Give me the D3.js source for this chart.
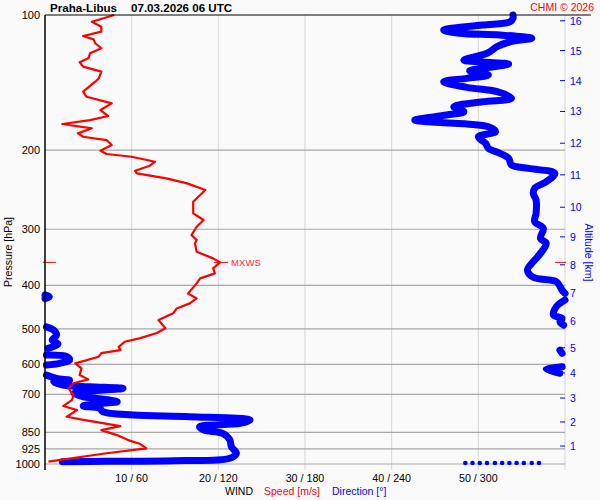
<!DOCTYPE html>
<html>
<head>
<meta charset="utf-8">
<script src="https://cdn.jsdelivr.net/npm/d3@7"></script>
<style>
body { margin: 0; background: #fafafa; }
svg { font-family: "Liberation Sans", Arial, sans-serif; display: block; }
</style>
</head>
<body>
<svg></svg>
<script>
/* sounding data */
var station = "Praha-Libus";
var dateLabel = "07.03.2026 06 UTC";
var copyright = "CHMI \u00a9 2026";

var presTicks = [100, 200, 300, 400, 500, 600, 700, 850, 925, 1000];
var windTicks = [10, 20, 30, 40, 50];
var windLabels = ["10 / 60", "20 / 120", "30 / 180", "40 / 240", "50 / 300"];
var gridSpeeds = [10, 20, 30, 40, 50, 60];

var altKm = [1, 2, 3, 4, 5, 6, 7, 8, 9, 10, 11, 12, 13, 14, 15, 16];
var altPres = [912, 806, 713, 627, 551, 480, 416, 360, 312, 268, 227, 193, 164, 140, 120, 103];

// wind speed [m/s] against pressure [hPa]
var speedPres = [100, 103.5, 106.2, 108.9, 111.4, 113.3, 115.6, 118.6, 121.7, 124.9,
  127.4, 130.3, 133.7, 138.4, 140.8, 148.2, 152.1, 157.3, 162.8, 167.9,
  171.4, 174.9, 178.8, 183.5, 186.7, 189.9, 194.8, 200.6, 204.0, 206.9,
  212.2, 216.6, 222.3, 225.3, 231.1, 237.1, 245.4, 260.5, 276.5, 286.2,
  296.2, 309.1, 317.2, 322.6, 336.8, 348.4, 355.6, 366.7, 376.3, 386.0,
  396.0, 417.0, 427.6, 438.8, 450.3, 461.8, 478.1, 498.6, 510.9, 524.3,
  534.3, 548.2, 557.6, 566.3, 576.8, 596.9, 612.4, 633.9, 647.9, 661.1,
  678.6, 702.4, 720.6, 742.9, 758.5, 784.8, 798.5, 823.5, 840.5, 862.3,
  884.7, 902.8, 922.6, 946.5, 988.1];
var speedVals = [8.0, 5.4, 6.5, 6.5, 4.4, 5.6, 5.8, 6.5, 5.2, 5.0,
  4.0, 4.4, 6.5, 6.2, 5.8, 4.4, 4.8, 7.7, 6.4, 7.3,
  5.2, 2.0, 5.4, 3.8, 4.4, 7.1, 7.7, 6.4, 7.1, 10.0,
  12.7, 12.1, 10.4, 10.6, 14.0, 16.4, 18.5, 17.1, 17.1, 18.3,
  17.5, 16.9, 17.5, 17.3, 17.5, 19.4, 20.2, 19.4, 19.6, 17.9,
  17.5, 16.5, 17.5, 16.7, 15.2, 14.8, 13.1, 13.9, 12.9, 11.0,
  9.2, 8.5, 8.7, 6.5, 6.2, 3.5, 4.2, 4.0, 5.0, 3.3,
  2.7, 3.3, 3.1, 2.1, 3.7, 2.5, 4.6, 8.7, 6.5, 8.3,
  9.6, 11.0, 11.7, 7.1, 0.4];

// wind direction [deg] against pressure [hPa]
var dirPres = [100, 101.7, 103.5, 105.3, 108.0, 109.8, 110.8, 112.7, 114.7, 117.6,
  121.7, 126.0, 127.3, 128.6, 131.4, 133.1, 136.0, 138.4, 140.8, 144.9,
  148.2, 153.3, 156.1, 160.1, 164.2, 167.0, 171.4, 173.8, 174.9, 177.3,
  181.9, 186.7, 193.1, 198.1, 203.2, 208.5, 215.9, 219.6, 225.3, 235.1,
  243.2, 249.5, 258.3, 276.5, 288.7, 298.5, 314.5, 322.6, 339.6, 354.4,
  369.9, 384.0, 392.6, 409.9, 417.0, 420.0, 424.0, 428.0, 431.4, 446.3,
  465.9, 473.9, 482.2, 490.5, 494.8, 503.2, 516.3, 529.7, 540.6, 552.5,
  557.6, 567.2, 572.1, 576.8, 586.9, 596.9, 602.2, 607.3, 614.6, 628.1,
  633.9, 644.6, 650.3, 655.7, 667.3, 672.9, 678.6, 688.2, 696.2, 708.2,
  714.2, 726.7, 732.8, 742.9, 751.6, 764.7, 778.2, 784.8, 798.5, 812.1,
  826.1, 840.5, 855.0, 884.7, 915.0, 946.5, 971.0, 983.0, 986.0, 988.0];
var dirVals = [324, 324, 322, 303, 276, 287, 315, 337, 322, 313,
  306, 290, 303, 321, 303, 294, 307, 292, 276, 292,
  313, 323, 303, 283, 290, 278, 256, 276, 292, 307,
  312, 300, 305, 307, 315, 321, 323, 335, 353, 347,
  339, 338, 340, 340, 339, 345, 343, 347, 343, 338,
  334, 338, 354, 358, 360, 0, 3, 0, 360, 354,
  352, 358, 356.5, 359, 1, 6, 8, 5, 9, 2,
  356.5, 358, 1, 15, 17, 10, 1, 358, 347, 356.5,
  1, 8, 17, 6, 12.5, 31, 54, 31, 20, 26.5,
  36, 50, 38, 26.5, 38, 40, 61, 100, 142, 135,
  107, 110, 123, 128, 129, 132.5, 128, 89, 43, 12];

// row of dots drawn just above 1000 hPa
var dotPres = 995;
var dotDirs = [291, 296, 301, 306, 311.5, 316.5, 321.5, 326.5, 331.5, 337, 342];

// maximum wind
var mxwsPres = 355.6;
var mxwsSpeed = 20.2;

/* svg setting */
var svgWidth = 600;
var svgHeight = 500;
var plot = {left: 45, right: 565, top: 15, bottom: 464};
var scale = {};

var svg = d3.select("svg")
    .attr("width", svgWidth)
    .attr("height", svgHeight)
    .style("background", "#fafafa");

setScale();
drawGrid();
drawDirection();
drawSpeed();
drawAxes();
drawLabels();

function setScale(){
  scale.y = d3.scaleLog()
      .domain([100, 1000])
      .range([plot.top, plot.bottom]);
  scale.x = d3.scaleLinear()
      .domain([0, 60])
      .range([plot.left, plot.right]);
  scale.dir = d3.scaleLinear()
      .domain([0, 360])
      .range([plot.left, plot.right]);
}

function drawGrid(){
  svg.append("g").selectAll("line")
      .data(gridSpeeds)
      .enter().append("line")
      .attr("x1", function(d){ return scale.x(d); })
      .attr("x2", function(d){ return scale.x(d); })
      .attr("y1", plot.top)
      .attr("y2", 470)
      .attr("stroke", "#d6d6d6")
      .attr("stroke-width", 1);

  svg.append("g").selectAll("line")
      .data(presTicks.slice(1))
      .enter().append("line")
      .attr("x1", plot.left)
      .attr("x2", plot.right)
      .attr("y1", function(d){ return scale.y(d); })
      .attr("y2", function(d){ return scale.y(d); })
      .attr("stroke", "#a8a8a8")
      .attr("stroke-width", 1.2);
}

function drawDirection(){
  // split the trace where the direction wraps round 0/360
  var segments = [];
  var cur = [];
  for(var i = 0; i < dirVals.length; i++){
    if(i > 0 && Math.abs(dirVals[i] - dirVals[i-1]) > 180){
      segments.push(cur);
      cur = [];
    }
    cur.push({p: dirPres[i], d: dirVals[i]});
  }
  segments.push(cur);

  var line = d3.line()
      .x(function(d){ return scale.dir(d.d); })
      .y(function(d){ return scale.y(d.p); })
      .curve(d3.curveCatmullRom);

  svg.append("g").selectAll("path")
      .data(segments)
      .enter().append("path")
      .attr("d", line)
      .attr("fill", "none")
      .attr("stroke", "#0000ff")
      .attr("stroke-width", 7)
      .attr("stroke-linecap", "round")
      .attr("stroke-linejoin", "round");

  svg.append("g").selectAll("circle")
      .data(dotDirs)
      .enter().append("circle")
      .attr("cx", function(d){ return scale.dir(d); })
      .attr("cy", scale.y(dotPres))
      .attr("r", 2.3)
      .attr("fill", "#0000ff");
}

function drawSpeed(){
  var pts = speedPres.map(function(p, i){ return {p: p, s: speedVals[i]}; });
  var line = d3.line()
      .x(function(d){ return scale.x(d.s); })
      .y(function(d){ return scale.y(d.p); });

  svg.append("path")
      .datum(pts)
      .attr("d", line)
      .attr("fill", "none")
      .attr("stroke", "#ff0000")
      .attr("stroke-width", 2.2)
      .attr("stroke-linejoin", "round");

  // max wind marks
  var my = scale.y(mxwsPres);
  var mx = scale.x(mxwsSpeed);
  svg.append("line")
      .attr("x1", mx - 6).attr("x2", mx + 8)
      .attr("y1", my).attr("y2", my)
      .attr("stroke", "#ff0000").attr("stroke-width", 1);
  svg.append("text")
      .attr("x", mx + 11).attr("y", my + 3.5)
      .attr("fill", "#ff3030")
      .style("font-size", "9.6px")
      .text("MXWS");
  svg.append("line")
      .attr("x1", 43).attr("x2", 56)
      .attr("y1", my).attr("y2", my)
      .attr("stroke", "#ff0000").attr("stroke-width", 1);
  svg.append("line")
      .attr("x1", 555).attr("x2", 566)
      .attr("y1", my).attr("y2", my)
      .attr("stroke", "#ff0000").attr("stroke-width", 1);
}

function drawAxes(){
  // frame
  svg.append("line")
      .attr("x1", plot.left).attr("x2", 591)
      .attr("y1", plot.top).attr("y2", plot.top)
      .attr("stroke", "#000").attr("stroke-width", 1.2);
  svg.append("line")
      .attr("x1", plot.left).attr("x2", plot.left)
      .attr("y1", plot.top).attr("y2", 470)
      .attr("stroke", "#000").attr("stroke-width", 1.5);

  // pressure labels
  svg.append("g").selectAll("text")
      .data(presTicks)
      .enter().append("text")
      .attr("x", 40)
      .attr("y", function(d){ return scale.y(d) + 4; })
      .attr("text-anchor", "end")
      .style("font-size", "11px")
      .text(function(d){ return d; });

  // wind labels
  svg.append("g").selectAll("text")
      .data(windTicks)
      .enter().append("text")
      .attr("x", function(d){ return scale.x(d); })
      .attr("y", 482)
      .attr("text-anchor", "middle")
      .style("font-size", "10.7px")
      .text(function(d, i){ return windLabels[i]; });

  // altitude axis
  var alt = svg.append("g");
  alt.selectAll("line")
      .data(altPres)
      .enter().append("line")
      .attr("x1", 560).attr("x2", 565)
      .attr("y1", function(d){ return scale.y(d); })
      .attr("y2", function(d){ return scale.y(d); })
      .attr("stroke", "#0000ff").attr("stroke-width", 1);
  alt.selectAll("text")
      .data(altPres)
      .enter().append("text")
      .attr("x", 570)
      .attr("y", function(d){ return scale.y(d) + 4; })
      .attr("fill", "#0000ff")
      .style("font-size", "10.5px")
      .text(function(d, i){ return altKm[i]; });
}

function drawLabels(){
  svg.append("text")
      .attr("x", 50).attr("y", 11.5)
      .style("font-size", "11.6px").style("font-weight", "bold")
      .text(station);
  svg.append("text")
      .attr("x", 131).attr("y", 11.5)
      .style("font-size", "11.6px").style("font-weight", "bold")
      .text(dateLabel);
  svg.append("text")
      .attr("x", 594).attr("y", 10.5)
      .attr("text-anchor", "end")
      .attr("fill", "#ff0000")
      .style("font-size", "10.5px")
      .text(copyright);

  svg.append("text")
      .attr("transform", translate(12, 252) + " rotate(-90)")
      .attr("text-anchor", "middle")
      .style("font-size", "10.6px")
      .text("Pressure [hPa]");
  svg.append("text")
      .attr("transform", translate(585, 252.5) + " rotate(90)")
      .attr("text-anchor", "middle")
      .attr("fill", "#0000ff")
      .style("font-size", "10.5px")
      .text("Altitude [km]");

  svg.append("text").attr("x", 225).attr("y", 495)
      .style("font-size", "10.5px").text("WIND");
  svg.append("text").attr("x", 264).attr("y", 495)
      .attr("fill", "#ff0000")
      .style("font-size", "10.5px").text("Speed [m/s]");
  svg.append("text").attr("x", 332).attr("y", 495)
      .attr("fill", "#0000ff")
      .style("font-size", "10.5px").text("Direction [\u00b0]");
}

function translate(x, y) {
  return "translate(" + x + "," + y + ")";
}
</script>
</body>
</html>
